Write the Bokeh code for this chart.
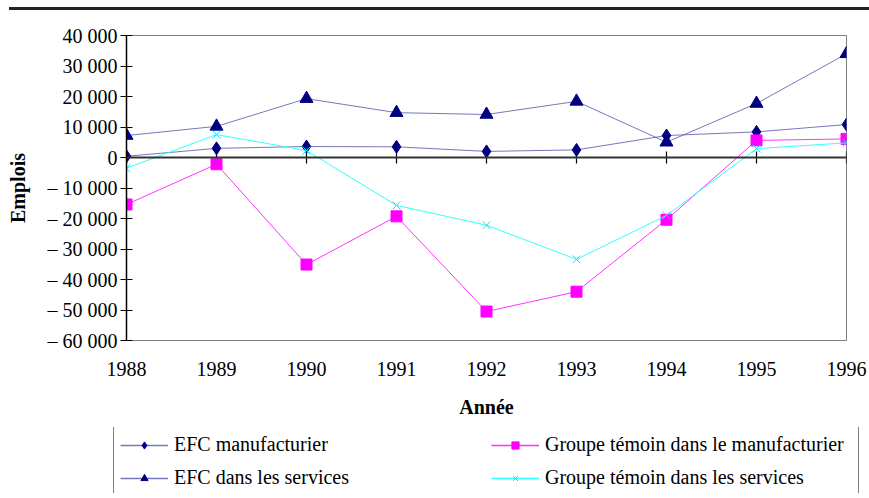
from bokeh.plotting import figure
from bokeh.models import FixedTicker, Range1d, Span, Legend, LegendItem, Div
from bokeh.layouts import column
from bokeh.embed import file_html
from bokeh.resources import INLINE

years = [1988, 1989, 1990, 1991, 1992, 1993, 1994, 1995, 1996]
efc_manuf = [400, 3000, 3600, 3500, 2000, 2500, 7200, 8400, 10800]
efc_serv = [7200, 10200, 19300, 14700, 14100, 18400, 5000, 17700, 34000]
temoin_manuf = [-15400, -2200, -35100, -19300, -50500, -44000, -20400, 5600, 6100]
temoin_serv = [-3500, 7500, 2300, -15700, -22200, -33400, -19000, 2900, 4800]

series_names = ["EFC manufacturier", "EFC dans les services",
                "Groupe témoin dans le manufacturier", "Groupe témoin dans les services"]

y_ticks = [40000, 30000, 20000, 10000, 0, -10000, -20000, -30000, -40000, -50000, -60000]
y_tick_labels = ["40 000", "30 000", "20 000", "10 000", "0", "– 10 000", "– 20 000",
                 "– 30 000", "– 40 000", "– 50 000", "– 60 000"]
x_tick_labels = [str(y) for y in years]

FONT = "Liberation Serif"
navy = "#000080"
efc_line = "#5555aa"


def draw_series(fig, line_w):
    r = []
    r.append([fig.line(years, efc_manuf, line_color=efc_line, line_width=line_w, line_alpha=0.8),
              fig.scatter(years, efc_manuf, marker="diamond", size=13, fill_color=navy, line_color=navy)])
    r.append([fig.line(years, efc_serv, line_color=efc_line, line_width=line_w, line_alpha=0.8),
              fig.scatter(years, efc_serv, marker="triangle", size=13, fill_color=navy, line_color=navy)])
    r.append([fig.line(years, temoin_manuf, line_color="#ff33ff", line_width=line_w),
              fig.scatter(years, temoin_manuf, marker="square", size=11, fill_color="#ff00ff",
                          line_color="#ff00ff")])
    r.append([fig.line(years, temoin_serv, line_color="#33ffff", line_width=line_w),
              fig.scatter(years, temoin_serv, marker="x", size=11, line_color="#00e5ff", line_width=1)])
    return r


p = figure(width=869, height=417, output_backend="svg", toolbar_location=None,
           x_range=Range1d(1988, 1996), y_range=Range1d(-60000, 40000),
           min_border_left=126, min_border_right=23, min_border_top=25, min_border_bottom=87)
p.frame_align = False
p.outline_line_color = "#808080"
p.outline_line_width = 1
p.xgrid.visible = False
p.ygrid.visible = False

# y axis
p.yaxis.ticker = FixedTicker(ticks=y_ticks)
p.yaxis.major_label_overrides = {t: l for t, l in zip(y_ticks, y_tick_labels)}
p.yaxis.axis_line_color = "black"
p.yaxis.axis_line_width = 1.5
p.yaxis.major_tick_in = 6
p.yaxis.major_tick_out = 6
p.yaxis.major_tick_line_color = "black"
p.yaxis.minor_tick_line_color = None
p.yaxis.major_label_text_font = FONT
p.yaxis.major_label_text_font_size = "20px"
p.yaxis.major_label_text_color = "black"
p.yaxis.major_label_standoff = 3
p.yaxis.axis_label = "Emplois"
p.yaxis.axis_label_text_font = FONT
p.yaxis.axis_label_text_font_style = "bold"
p.yaxis.axis_label_text_font_size = "20px"
p.yaxis.axis_label_text_color = "black"
p.yaxis.axis_label_standoff = 16

# x axis
p.xaxis.ticker = FixedTicker(ticks=years)
p.xaxis.major_label_overrides = {y: l for y, l in zip(years, x_tick_labels)}
p.xaxis.axis_line_color = None
p.xaxis.major_tick_line_color = None
p.xaxis.minor_tick_line_color = None
p.xaxis.major_label_text_font = FONT
p.xaxis.major_label_text_font_size = "20px"
p.xaxis.major_label_text_color = "black"
p.xaxis.major_label_standoff = 15
p.xaxis.axis_label = "Année"
p.xaxis.axis_label_text_font = FONT
p.xaxis.axis_label_text_font_style = "bold"
p.xaxis.axis_label_text_font_size = "20px"
p.xaxis.axis_label_text_color = "black"
p.xaxis.axis_label_standoff = 17

# zero line with tick marks
p.add_layout(Span(location=0, dimension="width", line_color="#333333", line_width=2))
p.segment(x0=years, x1=years, y0=[-2000] * len(years), y1=[2000] * len(years),
          line_color="black", line_width=1.2)

draw_series(p, 1)

# legend strip: a separate figure (series kept out of its view) so the legend
# can sit below the x axis, as in the reference
lg = figure(width=869, height=66, output_backend="svg", toolbar_location=None,
            x_axis_type=None, y_axis_type=None, min_border=0,
            x_range=Range1d(0, 1), y_range=Range1d(0, 1))
lg.frame_align = False
lg.outline_line_color = None
lg.xgrid.visible = False
lg.ygrid.visible = False
g = draw_series(lg, 1.5)

legend = Legend(items=[LegendItem(label=n, renderers=r) for n, r in zip(series_names, g)],
                ncols=2, location=(113, -3))
legend.label_text_font = FONT
legend.label_text_font_size = "20px"
legend.label_text_color = "black"
legend.glyph_width = 48
legend.glyph_height = 18
legend.label_height = 18
legend.label_width = 307
legend.label_standoff = 6
legend.spacing = 10
legend.padding = 6
legend.margin = 0
legend.border_line_color = "black"
legend.border_line_width = 1
legend.background_fill_alpha = 1
lg.add_layout(legend, "center")

top_rule = Div(width=860, height=3, margin=(7, 0, 0, 9), styles={"background-color": "#222222"})
layout = column(top_rule, p, lg, spacing=0)

open("out.html", "w").write(file_html(layout, INLINE))
